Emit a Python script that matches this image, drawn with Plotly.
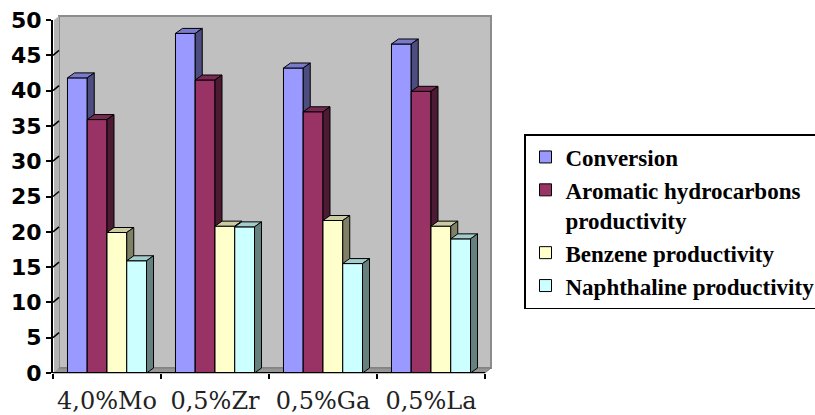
import plotly.graph_objects as go

# ---- data ----
categories = ["4,0%Mo", "0,5%Zr", "0,5%Ga", "0,5%La"]
conversion = [41.8, 48.1, 43.2, 46.6]
aromatic = [35.9, 41.5, 37.0, 39.9]
benzene = [19.9, 20.8, 21.6, 20.8]
naphthaline = [15.9, 20.7, 15.5, 19.0]
series_names = [
    "Conversion",
    "Aromatic hydrocarbons<br>productivity",
    "Benzene productivity",
    "Naphthaline productivity",
]
y_ticks = [0, 5, 10, 15, 20, 25, 30, 35, 40, 45, 50]

# ---- geometry / style ----
W, H = 815, 415
ML, MR, MT, MB = 53, 324, 20, 42
PW, PH = W - ML - MR, H - MT - MB
X_UNIT_PX = 108.0                     # pixels per category
X_RANGE = [-0.5, -0.5 + PW / X_UNIT_PX]
Y_MAX = 50
Y_UNIT_PX = PH / Y_MAX
WALL_DX, WALL_DY = 6, 5               # depth of the back wall (px)
BAR_DX, BAR_DY = 7, 5                 # depth of each column (px)
BAR_W = 0.183

front = ["#9999FF", "#993366", "#FFFFCC", "#CCFFFF"]
top = ["#7A7ACC", "#7A2952", "#CCCCA3", "#A3CCCC"]
side = ["#4D4D80", "#4D1A33", "#808066", "#668080"]


def px_x(px):
    return (px - ML) / PW


def px_y(py):
    return (H - MB - py) / PH


dxu = BAR_DX / X_UNIT_PX
dyu = BAR_DY / Y_UNIT_PX

fig = go.Figure()
all_series = [conversion, aromatic, benzene, naphthaline]
for k, vals in enumerate(all_series):
    yax = "y%d" % (k + 2)
    off = -2 * BAR_W + k * BAR_W
    fig.add_trace(go.Bar(
        x=list(range(len(categories))), y=vals, width=BAR_W, offset=off,
        marker=dict(color=front[k], line=dict(color="black", width=1)),
        name=series_names[k], legendgroup=str(k), xaxis="x", yaxis=yax,
        hoverinfo="y",
    ))
    tx, ty, sx, sy = [], [], [], []
    for i, v in enumerate(vals):
        x0 = i + off
        x1 = x0 + BAR_W
        tx += [x0, x1, x1 + dxu, x0 + dxu, x0, None]
        ty += [v, v, v + dyu, v + dyu, v, None]
        sx += [x1, x1, x1 + dxu, x1 + dxu, x1, None]
        sy += [0, v, v + dyu, dyu, 0, None]
    fig.add_trace(go.Scatter(
        x=tx, y=ty, mode="lines", fill="toself", fillcolor=top[k],
        line=dict(color="black", width=1), showlegend=False,
        hoverinfo="skip", xaxis="x", yaxis=yax,
    ))
    fig.add_trace(go.Scatter(
        x=sx, y=sy, mode="lines", fill="toself", fillcolor=side[k],
        line=dict(color="black", width=1), showlegend=False,
        hoverinfo="skip", xaxis="x", yaxis=yax,
    ))

shapes = []
# back wall
shapes.append(dict(type="rect", xref="paper", yref="paper",
                   x0=px_x(ML + WALL_DX), x1=px_x(ML + PW),
                   y0=px_y(H - MB - WALL_DY), y1=px_y(MT - WALL_DY + 1),
                   fillcolor="#C0C0C0", line=dict(color="#8C8C8C", width=2),
                   layer="below"))
# floor
fx0, fx1 = ML, ML + 4 * X_UNIT_PX
fy = H - MB
floor_path = "M %f %f L %f %f L %f %f L %f %f Z" % (
    px_x(fx0), px_y(fy), px_x(fx1), px_y(fy),
    px_x(fx1 + WALL_DX), px_y(fy - WALL_DY), px_x(fx0 + WALL_DX), px_y(fy - WALL_DY))
shapes.append(dict(type="path", xref="paper", yref="paper", path=floor_path,
                   fillcolor="#969696", line=dict(color="#7A7A7A", width=1),
                   layer="below"))
# left wall
lw_path = "M %f %f L %f %f L %f %f L %f %f Z" % (
    px_x(ML + 1), px_y(H - MB), px_x(ML + 1), px_y(MT),
    px_x(ML + WALL_DX), px_y(MT - WALL_DY + 1), px_x(ML + WALL_DX), px_y(H - MB - WALL_DY))
shapes.append(dict(type="path", xref="paper", yref="paper", path=lw_path,
                   fillcolor="#B4B4B4", line=dict(width=0), layer="above"))
# grid lines running across the left wall
for v in y_ticks[1:-1]:
    shapes.append(dict(type="line", xref="paper", yref="y2",
                       x0=px_x(ML), x1=px_x(ML + WALL_DX),
                       y0=v, y1=v + WALL_DY / Y_UNIT_PX,
                       line=dict(color="black", width=1.5), layer="above"))
# category axis line
shapes.append(dict(type="line", xref="x", yref="y2", x0=-0.5, x1=3.5, y0=0, y1=0,
                   line=dict(color="black", width=2), layer="above"))

fig.update_layout(
    width=W, height=H,
    margin=dict(l=ML, r=MR, t=MT, b=MB, autoexpand=False),
    paper_bgcolor="white", plot_bgcolor="rgba(0,0,0,0)",
    showlegend=True,
    shapes=shapes,
    xaxis=dict(
        range=X_RANGE, tickmode="array", tickvals=list(range(len(categories))),
        ticktext=categories, ticks="", showgrid=False, zeroline=False,
        showline=False, anchor="y", ticklabelstandoff=11,
        tickfont=dict(family="DejaVu Serif", size=24, color="#222222"),
        minor=dict(tickmode="array", tickvals=[-0.5, 0.5, 1.5, 2.5, 3.5],
                   ticks="outside", ticklen=5, tickwidth=2, tickcolor="black",
                   showgrid=False),
    ),
    # back-wall grid, raised by the wall depth
    yaxis=dict(
        range=[-WALL_DY / Y_UNIT_PX, Y_MAX - WALL_DY / Y_UNIT_PX],
        tickmode="array", tickvals=y_ticks[1:-1], showticklabels=False,
        ticks="", showgrid=True, gridcolor="black", gridwidth=1.5,
        zeroline=False, showline=False, anchor="x",
    ),
    yaxis2=dict(
        range=[0, Y_MAX], overlaying="y", side="left", anchor="x",
        tickmode="array", tickvals=y_ticks, ticks="outside", ticklen=5,
        tickwidth=2, tickcolor="black", showline=True, linewidth=2,
        linecolor="black", showgrid=False, zeroline=False,
        tickfont=dict(family="DejaVu Sans", size=22, color="black", weight="bold"),
    ),
    yaxis3=dict(range=[0, Y_MAX], overlaying="y", anchor="x", visible=False),
    yaxis4=dict(range=[0, Y_MAX], overlaying="y", anchor="x", visible=False),
    yaxis5=dict(range=[0, Y_MAX], overlaying="y", anchor="x", visible=False),
    legend=dict(
        x=px_x(524), y=px_y(134), xanchor="left", yanchor="top",
        bgcolor="white", bordercolor="black", borderwidth=1.5,
        font=dict(family="Liberation Serif", size=23, color="black", weight="bold"),
        traceorder="grouped", tracegroupgap=0, valign="top",
    ),
)

fig.write_html("out.html")
